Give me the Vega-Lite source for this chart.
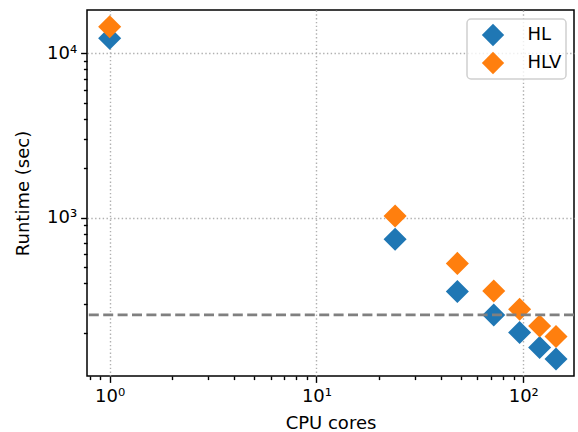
{
  "$schema": "https://vega.github.io/schema/vega-lite/v6.json",
  "width": 487,
  "height": 366,
  "autosize": {"type": "none"},
  "padding": {"left": 87, "top": 10, "right": 4, "bottom": 56},
  "config": {
    "font": "DejaVu Sans",
    "view": {"stroke": "black", "strokeWidth": 1.5},
    "axis": {
      "domain": false,
      "tickColor": "black",
      "tickWidth": 1.4,
      "labelColor": "black",
      "labelFontSize": 18,
      "labelOverlap": false,
      "labelFlush": false,
      "titleFontSize": 18,
      "titleFontWeight": "normal",
      "titleColor": "black",
      "gridColor": "#b0b0b0",
      "gridDash": [1.4, 2.4],
      "gridWidth": 1.4
    },
    "legend": {
      "fillColor": "rgba(255,255,255,0.8)",
      "strokeColor": "#d0d0d0",
      "strokeWidth": 1.5,
      "cornerRadius": 4,
      "padding": 4.5
    }
  },
  "layer": [
    {
      "data": {
        "values": [
          {"method": "HL", "cores": 1, "runtime": 12330},
          {"method": "HL", "cores": 24, "runtime": 738},
          {"method": "HL", "cores": 48, "runtime": 355},
          {"method": "HL", "cores": 72, "runtime": 256},
          {"method": "HL", "cores": 96, "runtime": 200},
          {"method": "HL", "cores": 120, "runtime": 162},
          {"method": "HL", "cores": 144, "runtime": 138},
          {"method": "HLV", "cores": 1, "runtime": 14520},
          {"method": "HLV", "cores": 24, "runtime": 1024},
          {"method": "HLV", "cores": 48, "runtime": 527},
          {"method": "HLV", "cores": 72, "runtime": 358},
          {"method": "HLV", "cores": 96, "runtime": 277},
          {"method": "HLV", "cores": 120, "runtime": 219},
          {"method": "HLV", "cores": 144, "runtime": 189}
        ]
      },
      "mark": {"type": "point", "shape": "diamond", "filled": true, "size": 530, "opacity": 1},
      "encoding": {
        "x": {
          "field": "cores",
          "type": "quantitative",
          "scale": {"type": "log", "domain": [0.777, 175.9], "nice": false},
          "axis": {
            "title": "CPU cores",
            "values": [0.8, 0.9, 1, 2, 3, 4, 5, 6, 7, 8, 9, 10, 20, 30, 40, 50, 60, 70, 80, 90, 100],
            "labelExpr": "datum.value == 1 ? '10⁰' : datum.value == 10 ? '10¹' : datum.value == 100 ? '10²' : ''",
            "tickSize": {"condition": {"test": "datum.value == 1 || datum.value == 10 || datum.value == 100", "value": 6.4}, "value": 3.6},
            "gridOpacity": {"condition": {"test": "datum.value == 1 || datum.value == 10 || datum.value == 100", "value": 1}, "value": 0},
            "labelPadding": 5,
            "titlePadding": 9
          }
        },
        "y": {
          "field": "runtime",
          "type": "quantitative",
          "scale": {"type": "log", "domain": [108.8, 18340], "nice": false},
          "axis": {
            "title": "Runtime (sec)",
            "values": [200, 300, 400, 500, 600, 700, 800, 900, 1000, 2000, 3000, 4000, 5000, 6000, 7000, 8000, 9000, 10000],
            "labelExpr": "datum.value == 1000 ? '10³' : datum.value == 10000 ? '10⁴' : ''",
            "tickSize": {"condition": {"test": "datum.value == 1000 || datum.value == 10000", "value": 6.4}, "value": 3.6},
            "gridOpacity": {"condition": {"test": "datum.value == 1000 || datum.value == 10000", "value": 1}, "value": 0},
            "labelPadding": 4,
            "titlePadding": 14
          }
        },
        "color": {
          "field": "method",
          "type": "nominal",
          "scale": {"domain": ["HL", "HLV"], "range": ["#1f77b4", "#ff7f0e"]},
          "legend": {
            "title": null,
            "orient": "none",
            "legendX": 380,
            "legendY": 9,
            "symbolType": "diamond",
            "symbolSize": 500,
            "symbolStrokeWidth": 0,
            "labelFontSize": 18,
            "labelColor": "black",
            "rowPadding": 5,
            "symbolOffset": 10,
            "labelOffset": 23
          }
        }
      }
    },
    {
      "data": {"values": [{"level": 256}]},
      "mark": {"type": "rule", "color": "#808080", "strokeWidth": 2.7, "strokeDash": [10, 4.4]},
      "encoding": {"y": {"field": "level", "type": "quantitative"}}
    }
  ]
}
